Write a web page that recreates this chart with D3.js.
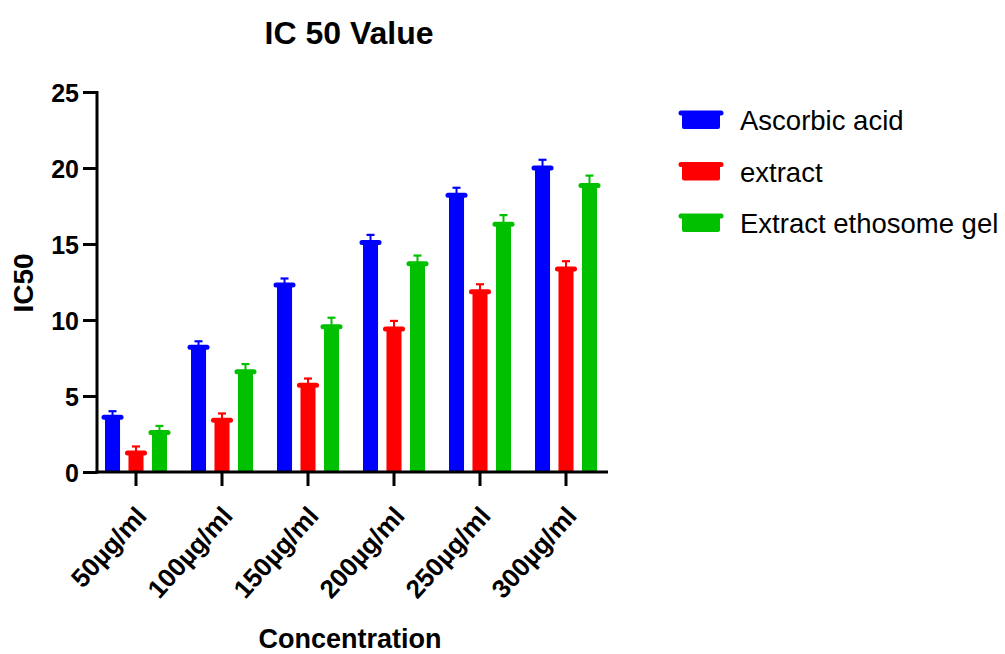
<!DOCTYPE html>
<html>
<head>
<meta charset="utf-8">
<script src="https://cdn.jsdelivr.net/npm/d3@7"></script>
<style>
  body { margin: 0; background: #fff; }
  text { font-family: "Liberation Sans", Arial, sans-serif; }
</style>
</head>
<body>
<div id="chart"></div>
<script>
var width = 1005;
var height = 654;

var categories = ['50µg/ml', '100µg/ml', '150µg/ml', '200µg/ml', '250µg/ml', '300µg/ml'];
var seriesNames = ['Ascorbic acid', 'extract', 'Extract ethosome gel'];
var colors = ['#0000ff', '#ff0000', '#00c000'];
var ascorbic = [3.7, 8.3, 12.4, 15.2, 18.3, 20.1];
var extract = [1.35, 3.5, 5.8, 9.5, 11.95, 13.45];
var gel = [2.7, 6.7, 9.65, 13.8, 16.4, 18.95];
var ascorbicErr = [0.3, 0.3, 0.33, 0.4, 0.4, 0.44];
var extractErr = [0.33, 0.35, 0.35, 0.44, 0.4, 0.42];
var gelErr = [0.33, 0.4, 0.5, 0.44, 0.5, 0.55];
var yTicks = [0, 5, 10, 15, 20, 25];

var series = [
  { name: seriesNames[0], values: ascorbic, err: ascorbicErr, color: colors[0] },
  { name: seriesNames[1], values: extract, err: extractErr, color: colors[1] },
  { name: seriesNames[2], values: gel, err: gelErr, color: colors[2] }
];

var svg = d3.select('#chart').append('svg')
  .attr('width', width)
  .attr('height', height);

var x = d3.scaleBand()
  .domain(categories)
  .range([93, 609]);

var inner = d3.scaleBand()
  .domain(d3.range(series.length))
  .range([-31, 31])
  .paddingInner(0.36)
  .paddingOuter(0);

var y = d3.scaleLinear()
  .domain([0, 25])
  .range([472, 92]);

// title
svg.append('text')
  .attr('x', 349)
  .attr('y', 44)
  .attr('text-anchor', 'middle')
  .style('font-size', '32px')
  .style('font-weight', 'bold')
  .text('IC 50 Value');

// bars
var groups = svg.selectAll('.series')
  .data(series)
  .enter()
  .append('g')
  .attr('class', 'series');

groups.each(function(s, si) {
  var g = d3.select(this);
  var rows = categories.map(function(c, i) {
    return { cat: c, v: s.values[i], e: s.err[i] };
  });
  var bw = inner.bandwidth();
  var bx = function(d) { return x(d.cat) + x.bandwidth() / 2 + inner(si); };

  // error bars
  g.selectAll('.err')
    .data(rows)
    .enter()
    .append('line')
    .attr('x1', function(d) { return bx(d) + bw / 2; })
    .attr('x2', function(d) { return bx(d) + bw / 2; })
    .attr('y1', function(d) { return y(d.v); })
    .attr('y2', function(d) { return y(d.v + d.e); })
    .attr('stroke', s.color)
    .attr('stroke-width', 2);

  g.selectAll('.errcap')
    .data(rows)
    .enter()
    .append('line')
    .attr('x1', function(d) { return bx(d) + bw / 2 - 4; })
    .attr('x2', function(d) { return bx(d) + bw / 2 + 4; })
    .attr('y1', function(d) { return y(d.v + d.e); })
    .attr('y2', function(d) { return y(d.v + d.e); })
    .attr('stroke', s.color)
    .attr('stroke-width', 2.2);

  g.selectAll('rect')
    .data(rows)
    .enter()
    .append('rect')
    .attr('x', bx)
    .attr('y', function(d) { return y(d.v); })
    .attr('width', bw)
    .attr('height', function(d) { return y(0) - y(d.v); })
    .attr('fill', s.color);

  // rounded top of each bar
  g.selectAll('.top')
    .data(rows)
    .enter()
    .append('line')
    .attr('x1', function(d) { return bx(d) - 1; })
    .attr('x2', function(d) { return bx(d) + bw + 1; })
    .attr('y1', function(d) { return y(d.v) + 1.5; })
    .attr('y2', function(d) { return y(d.v) + 1.5; })
    .attr('stroke', s.color)
    .attr('stroke-width', 5)
    .attr('stroke-linecap', 'round');
});

// y axis
var yAxis = svg.append('g')
  .attr('transform', 'translate(97,0)')
  .call(d3.axisLeft(y).tickValues(yTicks).tickSize(14).tickPadding(4));
yAxis.select('.domain').attr('stroke', '#000').attr('stroke-width', 3)
  .attr('d', 'M0,' + (y(25) - 1) + 'V' + (y(0) + 1.5));
yAxis.selectAll('.tick line').attr('stroke', '#000').attr('stroke-width', 3);
yAxis.selectAll('.tick text')
  .attr('fill', '#000')
  .style('font-size', '25px')
  .style('font-weight', 'bold')
  .style('font-family', '"Liberation Sans", Arial, sans-serif')
  .attr('dy', '0.36em');

// x axis
var xAxis = svg.append('g')
  .attr('transform', 'translate(0,472)')
  .call(d3.axisBottom(x).tickSize(14).tickSizeOuter(0));
xAxis.select('.domain').attr('stroke', '#000').attr('stroke-width', 3)
  .attr('d', 'M95.5,0H608');
xAxis.selectAll('.tick line').attr('stroke', '#000').attr('stroke-width', 3);
xAxis.selectAll('.tick text')
  .attr('fill', '#000')
  .style('font-size', '26px')
  .style('font-weight', 'bold')
  .style('font-family', '"Liberation Sans", Arial, sans-serif')
  .attr('text-anchor', 'end')
  .attr('y', 0)
  .attr('dy', 0)
  .attr('transform', 'translate(12,45) rotate(-48)');

// axis titles
svg.append('text')
  .attr('x', 350)
  .attr('y', 648)
  .attr('text-anchor', 'middle')
  .style('font-size', '27px')
  .style('font-weight', 'bold')
  .text('Concentration');

svg.append('text')
  .attr('transform', 'translate(33,283) rotate(-90)')
  .attr('text-anchor', 'middle')
  .style('font-size', '28px')
  .style('font-weight', 'bold')
  .text('IC50');

// legend
var legend = svg.selectAll('.legend')
  .data(series)
  .enter()
  .append('g')
  .attr('class', 'legend')
  .attr('transform', function(d, i) { return 'translate(682,' + (120 + i * 51.5) + ')'; });

legend.append('rect')
  .attr('x', 0)
  .attr('y', -8)
  .attr('width', 38)
  .attr('height', 17)
  .attr('rx', 2)
  .attr('fill', function(d) { return d.color; });

legend.append('line')
  .attr('x1', -1)
  .attr('x2', 39)
  .attr('y1', -7)
  .attr('y2', -7)
  .attr('stroke', function(d) { return d.color; })
  .attr('stroke-width', 5)
  .attr('stroke-linecap', 'round');

legend.append('text')
  .attr('x', 58)
  .attr('y', 10)
  .style('font-size', '27.5px')
  .text(function(d) { return d.name; });
</script>
</body>
</html>
